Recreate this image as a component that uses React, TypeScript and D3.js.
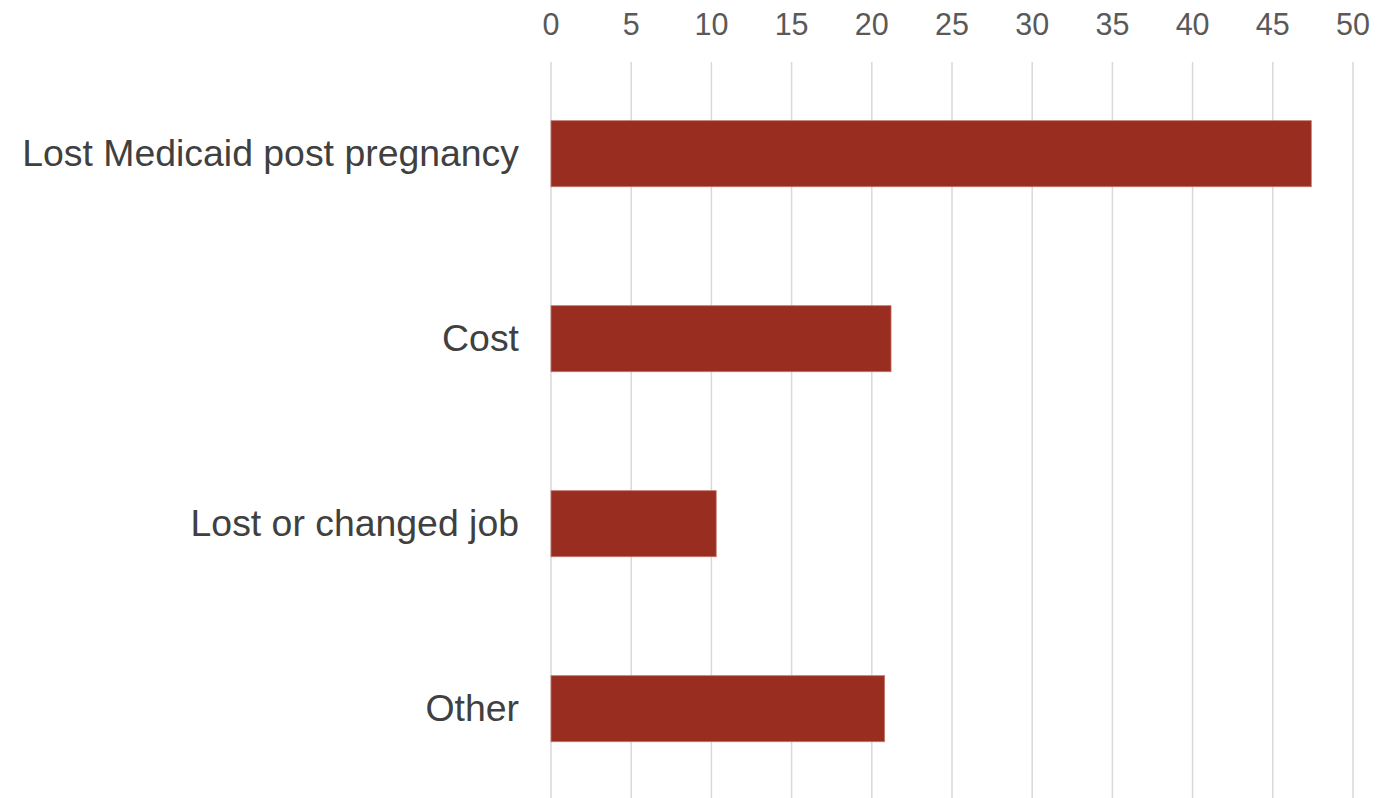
import React, { useEffect } from "react";
import * as d3 from "d3";

const categories = ["Lost Medicaid post pregnancy", "Cost", "Lost or changed job", "Other"];
const values = [47.4, 21.2, 10.3, 20.8];
const ticks = [0, 5, 10, 15, 20, 25, 30, 35, 40, 45, 50];

const W = 1391;
const H = 798;

export default function App() {
  useEffect(() => {
    document.body.style.margin = "0";
  }, []);

  const x = d3.scaleLinear().domain([0, 50]).range([551, 1353]);
  const y = d3
    .scaleBand<string>()
    .domain(categories)
    .range([61.2, 801.2])
    .paddingInner(0.643)
    .paddingOuter(0.3215);

  const font = "'Liberation Sans', Arial, sans-serif";

  return (
    <svg width={W} height={H} style={{ display: "block", background: "#fff" }}>
      {ticks.map((t) => (
        <g key={t}>
          <line x1={x(t)} x2={x(t)} y1={62} y2={H} stroke="#d9d9d9" strokeWidth={1.5} />
          <text
            x={x(t)}
            y={35}
            textAnchor="middle"
            fontFamily={font}
            fontSize={30.5}
            fill="#595959"
          >
            {t}
          </text>
        </g>
      ))}
      {categories.map((c, i) => (
        <g key={c}>
          <rect
            x={x(0)}
            y={y(c)}
            width={x(values[i]) - x(0)}
            height={y.bandwidth()}
            fill="#992d20"
            stroke="#c4766c"
            strokeWidth={0.8}
          />
          <text
            x={519}
            y={(y(c) as number) + y.bandwidth() / 2}
            dy="0.33em"
            textAnchor="end"
            fontFamily={font}
            fontSize={37.4}
            fill="#404040"
          >
            {c}
          </text>
        </g>
      ))}
    </svg>
  );
}
